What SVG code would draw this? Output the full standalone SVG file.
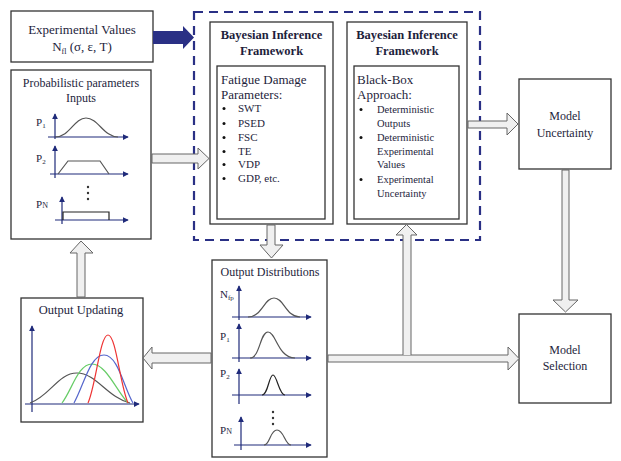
<svg xmlns="http://www.w3.org/2000/svg" width="621" height="461" viewBox="0 0 621 461">
<style>
.box{fill:#fff;stroke:#333;stroke-width:1.3}
.t{font-family:"Liberation Serif","Times New Roman",serif;fill:#1e1e3c}
.c{text-anchor:middle}
.b{font-weight:bold}
.blk{fill:#f0f0f0;stroke:#666;stroke-width:1}
.ax{stroke:#1f2a7a;stroke-width:1.2;fill:none}
.cv{fill:none;stroke:#555;stroke-width:1.2}
</style>
<defs>
<marker id="ah" viewBox="0 0 8 8" refX="7" refY="4" markerWidth="6" markerHeight="6" orient="auto" markerUnits="userSpaceOnUse">
<path d="M0,0 L8,4 L0,8 Z" fill="#1f2a7a"/>
</marker>
</defs>
<rect width="621" height="461" fill="#fff"/>

<g id="dashed-frame">
<rect x="194" y="12" width="286" height="228" fill="none" stroke="#2a3085" stroke-width="2.2" stroke-dasharray="9,6"/>
</g>

<g id="experimental-values">
<rect class="box" x="11" y="11" width="142" height="51"/>
<text class="t c" x="82" y="34" font-size="13">Experimental Values</text>
<text class="t c" x="82" y="51" font-size="13">N<tspan font-size="8" dy="3">fl</tspan><tspan dy="-3"> (σ, ε, T)</tspan></text>
</g>

<g id="prob-inputs">
<rect class="box" x="11" y="70" width="140" height="169"/>
<text class="t c" x="81" y="87" font-size="12">Probabilistic parameters</text>
<text class="t c" x="81" y="102" font-size="12">Inputs</text>
<text class="t" x="36" y="126" font-size="11">P<tspan font-size="7" dy="2">1</tspan></text>
<line class="ax" x1="55" y1="139" x2="55" y2="114" marker-end="url(#ah)"/>
<line class="ax" x1="48" y1="137" x2="128" y2="137" marker-end="url(#ah)"/>
<path class="cv" d="M55,137 C70,137 74,118 86,118 C98,118 104,137 118,137"/>
<text class="t" x="36" y="162" font-size="11">P<tspan font-size="7" dy="2">2</tspan></text>
<line class="ax" x1="55" y1="178" x2="55" y2="146" marker-end="url(#ah)"/>
<line class="ax" x1="50" y1="174" x2="128" y2="174" marker-end="url(#ah)"/>
<path class="cv" d="M58,174 L68,161 L100,161 L109,174"/>
<circle cx="88" cy="187" r="1.2" fill="#333"/>
<circle cx="88" cy="193" r="1.2" fill="#333"/>
<circle cx="88" cy="199" r="1.2" fill="#333"/>
<text class="t" x="36" y="208" font-size="11">P<tspan font-size="8">N</tspan></text>
<line class="ax" x1="62" y1="224" x2="62" y2="197" marker-end="url(#ah)"/>
<line class="ax" x1="55" y1="220" x2="128" y2="220" marker-end="url(#ah)"/>
<path d="M63,220 L63,212 L109,212 L109,220" fill="none" stroke="#222" stroke-width="1.2"/>
</g>

<g id="bif-1">
<rect class="box" x="210" y="22" width="123" height="202"/>
<text class="t c b" x="271.5" y="39" font-size="12.5">Bayesian Inference</text>
<text class="t c b" x="271.5" y="55" font-size="12.5">Framework</text>
<rect class="box" x="217" y="66" width="108" height="153"/>
<text class="t" x="221" y="84" font-size="13">Fatigue Damage</text>
<text class="t" x="221" y="99" font-size="13">Parameters:</text>
<g font-size="11">
<circle cx="224" cy="108.5" r="1.5" fill="#111"/><text class="t" x="238" y="112">SWT</text>
<circle cx="224" cy="123.5" r="1.5" fill="#111"/><text class="t" x="238" y="127">PSED</text>
<circle cx="224" cy="137.5" r="1.5" fill="#111"/><text class="t" x="238" y="141">FSC</text>
<circle cx="224" cy="151.5" r="1.5" fill="#111"/><text class="t" x="238" y="155">TE</text>
<circle cx="224" cy="164.5" r="1.5" fill="#111"/><text class="t" x="238" y="168">VDP</text>
<circle cx="224" cy="178.5" r="1.5" fill="#111"/><text class="t" x="238" y="182">GDP, etc.</text>
</g>
</g>

<g id="bif-2">
<rect class="box" x="347" y="22" width="120" height="202"/>
<text class="t c b" x="407" y="39" font-size="12.5">Bayesian Inference</text>
<text class="t c b" x="407" y="55" font-size="12.5">Framework</text>
<rect class="box" x="354" y="66" width="105" height="153"/>
<text class="t" x="357" y="84" font-size="13">Black-Box</text>
<text class="t" x="357" y="99" font-size="13">Approach:</text>
<g font-size="10.5">
<circle cx="361" cy="109.5" r="1.5" fill="#111"/><text class="t" x="377" y="113">Deterministic</text>
<text class="t" x="377" y="127">Outputs</text>
<circle cx="361" cy="137.5" r="1.5" fill="#111"/><text class="t" x="377" y="141">Deterministic</text>
<text class="t" x="377" y="155">Experimental</text>
<text class="t" x="377" y="168">Values</text>
<circle cx="361" cy="179.5" r="1.5" fill="#111"/><text class="t" x="377" y="183">Experimental</text>
<text class="t" x="377" y="197">Uncertainty</text>
</g>
</g>

<g id="model-uncertainty">
<rect class="box" x="519" y="79" width="92" height="90"/>
<text class="t c" x="565" y="120" font-size="12">Model</text>
<text class="t c" x="565" y="137" font-size="12">Uncertainty</text>
</g>

<g id="model-selection">
<rect class="box" x="519" y="314" width="92" height="89"/>
<text class="t c" x="565" y="354" font-size="12">Model</text>
<text class="t c" x="565" y="370" font-size="12">Selection</text>
</g>

<g id="output-updating">
<rect class="box" x="21" y="298" width="122" height="124"/>
<text class="t c" x="81" y="314" font-size="12.5">Output Updating</text>
<line class="ax" x1="32" y1="412" x2="32" y2="326" marker-end="url(#ah)"/>
<line class="ax" x1="25" y1="404" x2="139" y2="404" marker-end="url(#ah)"/>
<path d="M30,403 C50,396 58,373 77,373 C96,373 108,398 130,403" fill="none" stroke="#555" stroke-width="1.2"/>
<path d="M62,403 C72,390 78,364 92,364 C106,364 116,390 128,403" fill="none" stroke="#6c6" stroke-width="1.2"/>
<path d="M74,403 C84,385 90,355 104,355 C118,355 124,388 133,403" fill="none" stroke="#56c" stroke-width="1.2"/>
<path d="M88,403 C96,385 100,335 108,335 C116,335 120,385 128,403" fill="none" stroke="#e33" stroke-width="1.2"/>
</g>

<g id="output-distributions">
<rect class="box" x="212" y="260" width="115" height="197"/>
<text class="t c" x="270" y="276" font-size="12">Output Distributions</text>
<text class="t" x="220" y="298" font-size="11">N<tspan font-size="7" dy="2">fp</tspan></text>
<line class="ax" x1="239" y1="320" x2="239" y2="286" marker-end="url(#ah)"/>
<line class="ax" x1="232" y1="317" x2="311" y2="317" marker-end="url(#ah)"/>
<path class="cv" d="M248,317 C262,317 264,298 274,298 C284,298 286,317 300,317"/>
<text class="t" x="220" y="340" font-size="11">P<tspan font-size="7" dy="2">1</tspan></text>
<line class="ax" x1="239" y1="362" x2="239" y2="324" marker-end="url(#ah)"/>
<line class="ax" x1="232" y1="358" x2="311" y2="358" marker-end="url(#ah)"/>
<path class="cv" d="M250,358 C260,358 260,332 268,332 C276,332 278,358 295,358"/>
<text class="t" x="220" y="377" font-size="11">P<tspan font-size="7" dy="2">2</tspan></text>
<line class="ax" x1="239" y1="404" x2="239" y2="369" marker-end="url(#ah)"/>
<line class="ax" x1="232" y1="395" x2="311" y2="395" marker-end="url(#ah)"/>
<path d="M262,395 C268,395 269,375 273,375 C277,375 279,395 285,395" fill="none" stroke="#222" stroke-width="1.2"/>
<circle cx="273" cy="412" r="1.2" fill="#333"/>
<circle cx="273" cy="418" r="1.2" fill="#333"/>
<circle cx="273" cy="424" r="1.2" fill="#333"/>
<text class="t" x="220" y="434" font-size="11">P<tspan font-size="8">N</tspan></text>
<line class="ax" x1="241" y1="450" x2="241" y2="417" marker-end="url(#ah)"/>
<line class="ax" x1="234" y1="445" x2="311" y2="445" marker-end="url(#ah)"/>
<path class="cv" d="M264,445 C270,445 270,430 277,430 C284,430 285,445 291,445"/>
</g>

<g id="connectors">
<path d="M153,31 L183,31 L183,26 L194,37.5 L183,49 L183,44 L153,44 Z" fill="#2a3085"/>
<path class="blk" d="M152,154 L198,154 L198,148 L209,158.5 L198,169 L198,163 L152,163 Z"/>
<path class="blk" d="M77,297 L77,253 L70,253 L81,241 L93,253 L85,253 L85,297 Z"/>
<path class="blk" d="M211,353 L152,353 L152,347 L143,358 L152,369 L152,363 L211,363 Z"/>
<path class="blk" d="M267,225 L267,245 L260,245 L271.5,258 L283,245 L275,245 L275,225 Z"/>
<path class="blk" d="M328,355 L508,355 L508,347 L519,358.5 L508,370 L508,362 L328,362 Z"/>
<path class="blk" d="M403,355 L403,235 L396,235 L406.5,224.5 L417,235 L411,235 L411,355"/>
<path class="blk" d="M468,121 L507,121 L507,113 L518,124 L507,135 L507,128 L468,128 Z"/>
<path class="blk" d="M562,170 L562,300 L553,300 L565.5,312 L578,300 L569,300 L569,170 Z"/>
</g>
</svg>
